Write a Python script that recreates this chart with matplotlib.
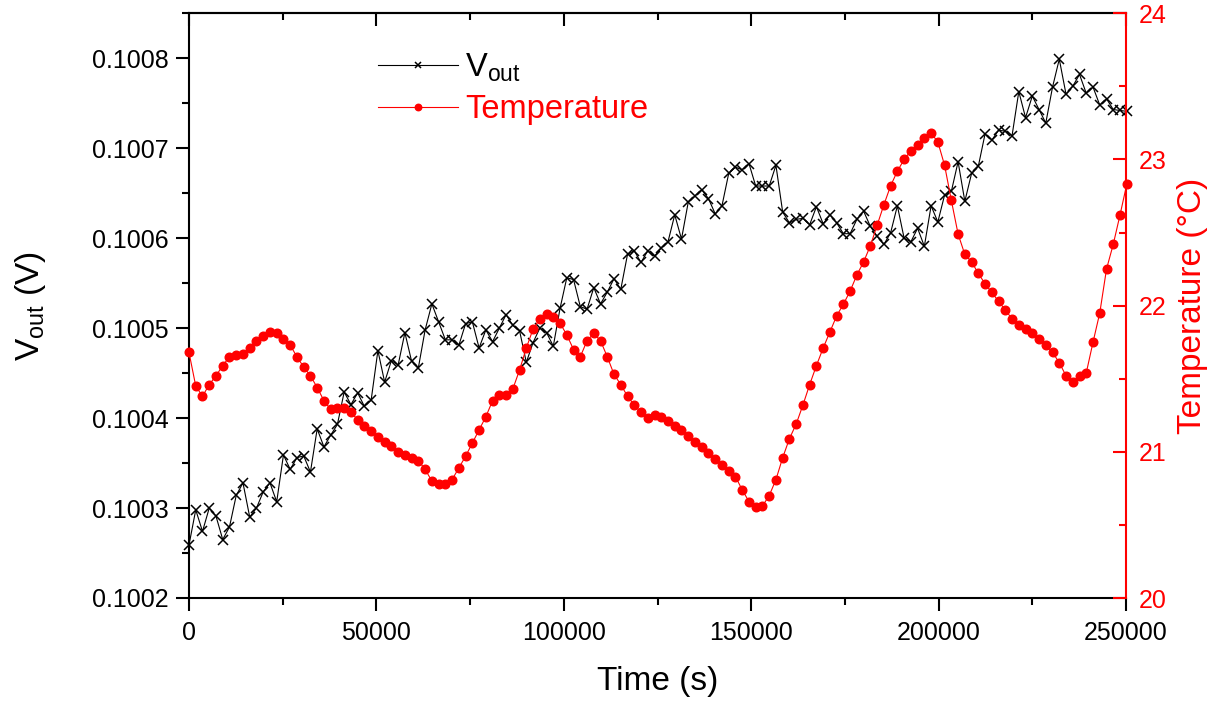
import numpy as np
import matplotlib.pyplot as plt
from matplotlib.ticker import MultipleLocator, AutoMinorLocator, FormatStrFormatter

plt.rcParams['font.family'] = ['Liberation Sans', 'DejaVu Sans']
plt.rcParams['mathtext.fontset'] = 'custom'
plt.rcParams['mathtext.rm'] = 'Liberation Sans'
plt.rcParams['mathtext.it'] = 'Liberation Sans:italic'

# output voltage (V), one reading every 1800 s
vout = [
    0.100259, 0.100298, 0.100274, 0.100300, 0.100291, 0.100265, 0.100279, 0.100314, 0.100328, 0.100290,
    0.100300, 0.100318, 0.100328, 0.100307, 0.100359, 0.100343, 0.100356, 0.100358, 0.100340, 0.100388,
    0.100368, 0.100381, 0.100393, 0.100429, 0.100415, 0.100428, 0.100413, 0.100420, 0.100475, 0.100440,
    0.100464, 0.100459, 0.100495, 0.100463, 0.100456, 0.100498, 0.100527, 0.100507, 0.100487, 0.100487,
    0.100481, 0.100505, 0.100507, 0.100478, 0.100498, 0.100485, 0.100500, 0.100515, 0.100503, 0.100497,
    0.100462, 0.100484, 0.100500, 0.100495, 0.100480, 0.100522, 0.100556, 0.100554, 0.100524, 0.100521,
    0.100545, 0.100527, 0.100540, 0.100555, 0.100543, 0.100582, 0.100586, 0.100573, 0.100586, 0.100580,
    0.100589, 0.100596, 0.100626, 0.100599, 0.100640, 0.100647, 0.100654, 0.100644, 0.100627, 0.100636,
    0.100672, 0.100679, 0.100676, 0.100683, 0.100658, 0.100658, 0.100658, 0.100681, 0.100629, 0.100617,
    0.100621, 0.100622, 0.100615, 0.100635, 0.100616, 0.100626, 0.100617, 0.100605, 0.100605, 0.100621,
    0.100630, 0.100613, 0.100602, 0.100593, 0.100606, 0.100636, 0.100600, 0.100596, 0.100611, 0.100591,
    0.100636, 0.100618, 0.100648, 0.100652, 0.100685, 0.100641, 0.100672, 0.100680, 0.100716, 0.100709,
    0.100720, 0.100719, 0.100714, 0.100763, 0.100734, 0.100758, 0.100743, 0.100728, 0.100768, 0.100799,
    0.100760, 0.100769, 0.100782, 0.100761, 0.100768, 0.100748, 0.100755, 0.100743, 0.100742, 0.100741,
]

# temperature (deg C), same sampling
temperature = [
    21.68, 21.45, 21.38, 21.46, 21.52, 21.59, 21.65, 21.66, 21.67, 21.71,
    21.76, 21.79, 21.82, 21.81, 21.77, 21.73, 21.65, 21.58, 21.52, 21.44,
    21.35, 21.29, 21.30, 21.30, 21.27, 21.22, 21.18, 21.14, 21.10, 21.07,
    21.04, 21.00, 20.98, 20.96, 20.94, 20.88, 20.80, 20.78, 20.78, 20.81,
    20.89, 20.97, 21.06, 21.15, 21.24, 21.35, 21.39, 21.39, 21.43, 21.56,
    21.71, 21.84, 21.91, 21.94, 21.92, 21.88, 21.80, 21.70, 21.65, 21.76,
    21.81, 21.76, 21.65, 21.53, 21.46, 21.38, 21.32, 21.27, 21.23, 21.25,
    21.24, 21.21, 21.18, 21.15, 21.11, 21.07, 21.03, 20.99, 20.95, 20.91,
    20.87, 20.83, 20.74, 20.66, 20.62, 20.63, 20.70, 20.81, 20.96, 21.09,
    21.19, 21.32, 21.46, 21.59, 21.71, 21.82, 21.93, 22.01, 22.10, 22.21,
    22.30, 22.41, 22.55, 22.69, 22.82, 22.92, 23.00, 23.06, 23.10, 23.15,
    23.18, 23.12, 22.96, 22.72, 22.49, 22.35, 22.30, 22.22, 22.15, 22.09,
    22.03, 21.97, 21.91, 21.87, 21.84, 21.81, 21.77, 21.73, 21.68, 21.61,
    21.52, 21.48, 21.52, 21.54, 21.75, 21.95, 22.25, 22.42, 22.62, 22.83,
]

t_step = 1800
time_s = np.arange(len(vout)) * t_step

fig = plt.figure(figsize=(12.19, 7.01), dpi=100)
ax = fig.add_axes([189/1219, 1 - 598/701, 937/1219, 584.7/701])
ax2 = ax.twinx()

l1, = ax.plot(time_s, vout, color='black', lw=0.8, marker='x', ms=6.5, mew=1.1,
              label=r'V$_{\mathrm{out}}$', clip_on=False)
l2, = ax2.plot(time_s, temperature, color='red', lw=0.8, marker='o', ms=6.2,
               mec='red', mfc='red', label='Temperature', clip_on=False)

ax.set_xlim(0, 250000)
ax.set_ylim(0.1002, 0.10085)
ax2.set_ylim(20, 24)

ax.xaxis.set_major_locator(MultipleLocator(50000))
ax.xaxis.set_minor_locator(AutoMinorLocator(2))
ax.yaxis.set_major_locator(MultipleLocator(0.0001))
ax.yaxis.set_minor_locator(AutoMinorLocator(2))
ax.yaxis.set_major_formatter(FormatStrFormatter('%.4f'))
ax2.yaxis.set_major_locator(MultipleLocator(1))
ax2.yaxis.set_minor_locator(AutoMinorLocator(2))

for s in ['left', 'bottom', 'top']:
    ax.spines[s].set_linewidth(1.5)
ax.spines['right'].set_visible(False)
for s in ['left', 'bottom', 'top']:
    ax2.spines[s].set_visible(False)
ax2.spines['right'].set_color('red')
ax2.spines['right'].set_linewidth(1.5)

ax.tick_params(axis='both', which='major', direction='out', length=9.5, width=1.5,
               labelsize=18, top=False, right=False)
ax.tick_params(axis='both', which='minor', direction='out', length=5, width=1.5,
               top=False, right=False)
ax.tick_params(axis='x', which='major', pad=7)
ax.tick_params(axis='y', which='major', pad=5)

# top ticks point inward
top = ax.secondary_xaxis('top')
top.xaxis.set_major_locator(MultipleLocator(50000))
top.xaxis.set_minor_locator(AutoMinorLocator(2))
top.tick_params(which='major', direction='in', length=9.5, width=1.5, labeltop=False)
top.tick_params(which='minor', direction='in', length=5, width=1.5)
top.spines['top'].set_linewidth(1.5)

ax2.tick_params(axis='y', which='major', direction='in', length=9.5, width=1.5,
                colors='red', labelsize=18, pad=9)
ax2.tick_params(axis='y', which='minor', direction='in', length=5, width=1.5, colors='red')

ax.set_xlabel('Time (s)', fontsize=24, labelpad=15)
ax.set_ylabel(r'V$_{\mathrm{out}}$ (V)', fontsize=24, labelpad=32)
ax2.set_ylabel('Temperature (\u00b0C)', fontsize=24, color='red', labelpad=8)

leg = ax2.legend(handles=[l1, l2], loc='upper left', bbox_to_anchor=(0.184, 0.962),
                 frameon=False, fontsize=23.5, handlelength=2.45, handletextpad=0.22,
                 borderpad=0, labelspacing=0.3, markerscale=0.75, labelcolor='linecolor')

fig.savefig('out.png', dpi=100)
